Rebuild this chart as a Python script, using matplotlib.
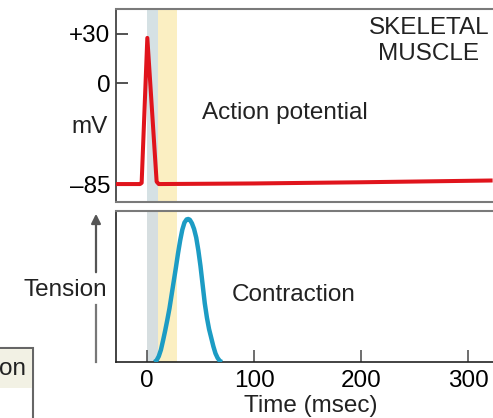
import matplotlib
matplotlib.use('Agg')
import matplotlib.pyplot as plt
import numpy as np
from matplotlib.lines import Line2D
from matplotlib.patches import Rectangle, FancyArrowPatch
from matplotlib.ticker import NullLocator

# membrane potential (mV), time in msec
ap_time = [-29, -6.5, -5, 0.3, 9, 11, 100, 200, 323]
ap_mv = [-85, -85, -84, 27.6, -83, -85, -84.5, -83.5, -82]

# twitch tension (relative units)
tw_time = [7, 9, 11, 13, 15, 17, 19, 21, 23, 25, 27, 29, 31, 33, 35, 37, 38.5,
           40, 42, 44, 46, 48, 50, 52, 54, 56, 58, 60, 62, 64, 66, 68, 70]
tw_tension = [0, 0.012, 0.04, 0.085, 0.15, 0.22, 0.295, 0.375, 0.47, 0.565,
              0.66, 0.76, 0.85, 0.925, 0.975, 0.997, 1.0, 0.995, 0.97, 0.93,
              0.87, 0.78, 0.67, 0.54, 0.41, 0.31, 0.23, 0.17, 0.11, 0.06,
              0.028, 0.008, 0]

# latent period / refractory bands (msec)
band_gray = (0, 10)
band_yellow = (10, 28)

mv_ticks = [30, 0, -85]
mv_labels = ['+30', '0', '\u201385']
time_ticks = [0, 100, 200, 300]

fsz = 17.5
red = '#e0141c'
teal = '#1c9cc4'
plt.rcParams['font.family'] = ['Liberation Sans', 'DejaVu Sans']
plt.rcParams['text.color'] = '#222222'

W, H = 493, 418


def fx(x):
    return x / W


def fy(y):
    return 1 - y / H


# the mV axis of the drawing is not linear: two different scales above/below 0
def fwd(v):
    v = np.asarray(v, dtype=float)
    return np.where(v < 0, v * 101 / 85, v * 49 / 30)


def inv(p):
    p = np.asarray(p, dtype=float)
    return np.where(p < 0, p * 85 / 101, p * 30 / 49)


xlim = ((116 - 147) / 1.07, (493 - 147) / 1.07)

fig = plt.figure(figsize=(W / 100, H / 100), dpi=100)

#----- top panel: action potential
ax1 = fig.add_axes([fx(116), fy(202), fx(493) - fx(116), fy(9) - fy(202)])
ax1.set_yscale('function', functions=(fwd, inv))
ax1.set_xlim(*xlim)
ax1.set_ylim(-100.1, 45.3)
ax1.axvspan(*band_gray, color='#d5e1e4', lw=0, zorder=0)
ax1.axvspan(*band_yellow, color='#fbefc2', lw=0, zorder=0)
ax1.plot(ap_time, ap_mv, color=red, lw=2.9, solid_joinstyle='round',
         solid_capstyle='butt', zorder=3)
ax1.set_yticks(mv_ticks)
ax1.set_yticklabels(mv_labels)
ax1.yaxis.set_minor_locator(NullLocator())
ax1.set_xticks([])
ax1.tick_params(axis='y', direction='in', length=8.5, width=1.3, color='#444444',
                labelsize=fsz, pad=4)
ax1.spines['right'].set_visible(False)
ax1.spines['top'].set_color('#7a7a7a')
ax1.spines['top'].set_linewidth(1.5)
ax1.spines['bottom'].set_color('#7a7a7a')
ax1.spines['bottom'].set_linewidth(1.5)
ax1.spines['left'].set_color('#444444')
ax1.spines['left'].set_linewidth(1.3)

#----- bottom panel: contraction
ax2 = fig.add_axes([fx(116), fy(362), fx(493) - fx(116), fy(211) - fy(362)])
ax2.set_xlim(*xlim)
ax2.set_ylim(0, 1.056)
ax2.axvspan(*band_gray, color='#d6dee0', lw=0, zorder=0)
ax2.axvspan(*band_yellow, color='#fbefc2', lw=0, zorder=0)
ax2.plot(tw_time, tw_tension, color=teal, lw=3.2, solid_joinstyle='round',
         solid_capstyle='butt', zorder=3)
ax2.set_xticks(time_ticks)
ax2.set_yticks([])
ax2.tick_params(axis='x', direction='in', length=8.5, width=1.2, color='#555555',
                labelsize=fsz, pad=6)
ax2.spines['right'].set_visible(False)
ax2.spines['top'].set_color('#7a7a7a')
ax2.spines['top'].set_linewidth(1.5)
ax2.spines['left'].set_color('#222222')
ax2.spines['left'].set_linewidth(1.2)
ax2.spines['bottom'].set_color('#222222')
ax2.spines['bottom'].set_linewidth(1.2)

#----- labels
fig.text(fx(90), fy(127), 'mV', ha='center', va='center', fontsize=fsz)
fig.text(fx(429), fy(41), 'SKELETAL\nMUSCLE', ha='center', va='center',
         fontsize=fsz, linespacing=1.2)
fig.text(fx(285), fy(113), 'Action potential', ha='center', va='center', fontsize=fsz)
fig.text(fx(294), fy(295), 'Contraction', ha='center', va='center', fontsize=fsz)
fig.text(fx(311), fy(406), 'Time (msec)', ha='center', va='center', fontsize=fsz)
fig.text(fx(65), fy(290), 'Tension', ha='center', va='center', fontsize=fsz)

# tension arrow, broken around its label
fig.add_artist(Line2D([fx(96), fx(96)], [fy(305), fy(362)], color='#777777', lw=1.6))
fig.add_artist(FancyArrowPatch((fx(96), fy(275)), (fx(96), fy(211)),
                               transform=fig.transFigure, arrowstyle='-|>',
                               mutation_scale=14, color='#555555', lw=1.6))

# corner of a neighbouring box
fig.add_artist(Rectangle((fx(-10), fy(430)), fx(43), fy(348) - fy(430),
                         transform=fig.transFigure, facecolor='white',
                         edgecolor='#666666', lw=1.5))
fig.add_artist(Rectangle((fx(-10), fy(388)), fx(42), fy(349) - fy(388),
                         transform=fig.transFigure, facecolor='#f2f1e4',
                         edgecolor='none'))
fig.text(fx(26), fy(369), 'on', ha='right', va='center', fontsize=fsz)

plt.savefig('out.png', dpi=100)
